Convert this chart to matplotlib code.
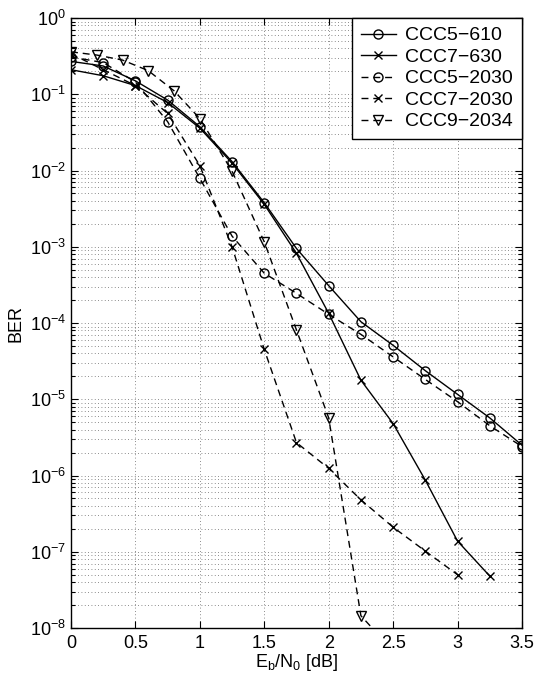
import numpy as np
import matplotlib
matplotlib.use("Agg")
import matplotlib.pyplot as plt
from matplotlib.ticker import LogLocator, FixedLocator, NullFormatter

plt.rcParams['font.family'] = ['Liberation Sans', 'DejaVu Sans']
plt.rcParams['mathtext.fontset'] = 'custom'
plt.rcParams['mathtext.rm'] = 'Liberation Sans'
plt.rcParams['mathtext.it'] = 'Liberation Sans'

# ---- data ----
x_025 = [0, 0.25, 0.5, 0.75, 1.0, 1.25, 1.5, 1.75, 2.0, 2.25, 2.5, 2.75, 3.0, 3.25, 3.5]
ccc5_610 = [0.27, 0.235, 0.15, 0.084, 0.0376, 0.0131, 3.78e-3, 9.5e-4, 3.09e-4,
            1.04e-4, 5.1e-5, 2.37e-5, 1.16e-5, 5.7e-6, 2.5e-6]
x_ccc7_630 = [0, 0.25, 0.5, 0.75, 1.0, 1.25, 1.5, 1.75, 2.0, 2.25, 2.5, 2.75, 3.0, 3.25]
ccc7_630 = [0.21, 0.175, 0.13, 0.078, 0.036, 0.0125, 3.6e-3, 8.2e-4, 1.34e-4,
            1.78e-5, 4.8e-6, 8.7e-7, 1.38e-7, 4.8e-8]
ccc5_2030 = [0.31, 0.26, 0.145, 0.0437, 0.0079, 1.38e-3, 4.5e-4, 2.45e-4, 1.3e-4,
             7.1e-5, 3.6e-5, 1.82e-5, 9.3e-6, 4.5e-6, 2.4e-6]
x_ccc7_2030 = [0, 0.25, 0.5, 0.75, 1.0, 1.25, 1.5, 1.75, 2.0, 2.25, 2.5, 2.75, 3.0]
ccc7_2030 = [0.34, 0.21, 0.13, 0.056, 0.0116, 1.0e-3, 4.5e-5, 2.7e-6, 1.24e-6,
             4.8e-7, 2.1e-7, 1.02e-7, 5.0e-8]
x_ccc9_2034 = [0, 0.2, 0.4, 0.6, 0.8, 1.0, 1.25, 1.5, 1.75, 2.0, 2.25, 2.5]
ccc9_2034 = [0.36, 0.327, 0.281, 0.204, 0.111, 0.048, 0.0098, 1.16e-3, 8.1e-5,
             5.7e-6, 1.45e-8, 5e-9]

labels = ['CCC5\u2212610', 'CCC7\u2212630', 'CCC5\u22122030', 'CCC7\u22122030', 'CCC9\u22122034']
x_ticks = [0, 0.5, 1, 1.5, 2, 2.5, 3, 3.5]
x_tick_labels = ['0', '0.5', '1', '1.5', '2', '2.5', '3', '3.5']

# ---- figure ----
fig = plt.figure(figsize=(5.37, 6.83), dpi=100)
ax = fig.add_axes([0.1322, 0.0805, 0.972 - 0.1322, 0.9736 - 0.0805])

dash = (0, (5, 3.5))
lw = 1.0
ms = 6.5
ax.semilogy(x_025, ccc5_610, color='k', lw=lw, ls='-', marker='o', ms=ms,
            mfc='none', mec='k', mew=1.0, label=labels[0])
ax.semilogy(x_ccc7_630, ccc7_630, color='k', lw=lw, ls='-', marker='x', ms=5.5,
            mec='k', mew=1.0, label=labels[1])
ax.semilogy(x_025, ccc5_2030, color='k', lw=lw, ls=dash, marker='o', ms=ms,
            mfc='none', mec='k', mew=1.0, label=labels[2])
ax.semilogy(x_ccc7_2030, ccc7_2030, color='k', lw=lw, ls=dash, marker='x', ms=5.5,
            mec='k', mew=1.0, label=labels[3])
ax.semilogy(x_ccc9_2034, ccc9_2034, color='k', lw=lw, ls=dash, marker='v', ms=ms,
            mfc='none', mec='k', mew=1.0, label=labels[4])

ax.set_xlim(0, 3.5)
ax.set_ylim(1e-8, 1)
ax.xaxis.set_major_locator(FixedLocator(x_ticks))
ax.set_xticklabels(x_tick_labels)
ax.yaxis.set_major_locator(LogLocator(base=10, numticks=20))
ax.yaxis.set_minor_locator(LogLocator(base=10, subs=np.arange(2, 10), numticks=20))
ax.yaxis.set_minor_formatter(NullFormatter())

ax.tick_params(which='both', direction='in', top=True, right=True, labelsize=13,
               width=0.8, color='k')
ax.tick_params(which='major', length=5)
ax.tick_params(which='minor', length=3)
ax.tick_params(axis='x', pad=5)

ax.grid(True, which='major', ls=(0, (1, 3)), color='k', lw=0.6, alpha=0.6)
ax.grid(True, which='minor', axis='y', ls=(0, (1, 3)), color='k', lw=0.6, alpha=0.6)
ax.set_axisbelow(True)
for s in ax.spines.values():
    s.set_linewidth(1.0)

ax.set_xlabel(r'E$_\mathregular{b}$/N$_\mathregular{0}$ [dB]', fontsize=13, labelpad=0)
ax.set_ylabel('BER', fontsize=13, labelpad=4)

leg = ax.legend(loc='upper right', fontsize=14, borderaxespad=0, fancybox=False,
                framealpha=1, edgecolor='k', handlelength=1.8, handletextpad=0.5,
                labelspacing=0.2, borderpad=0.45)
leg.get_frame().set_linewidth(1.0)

fig.savefig('out.png', dpi=100)
